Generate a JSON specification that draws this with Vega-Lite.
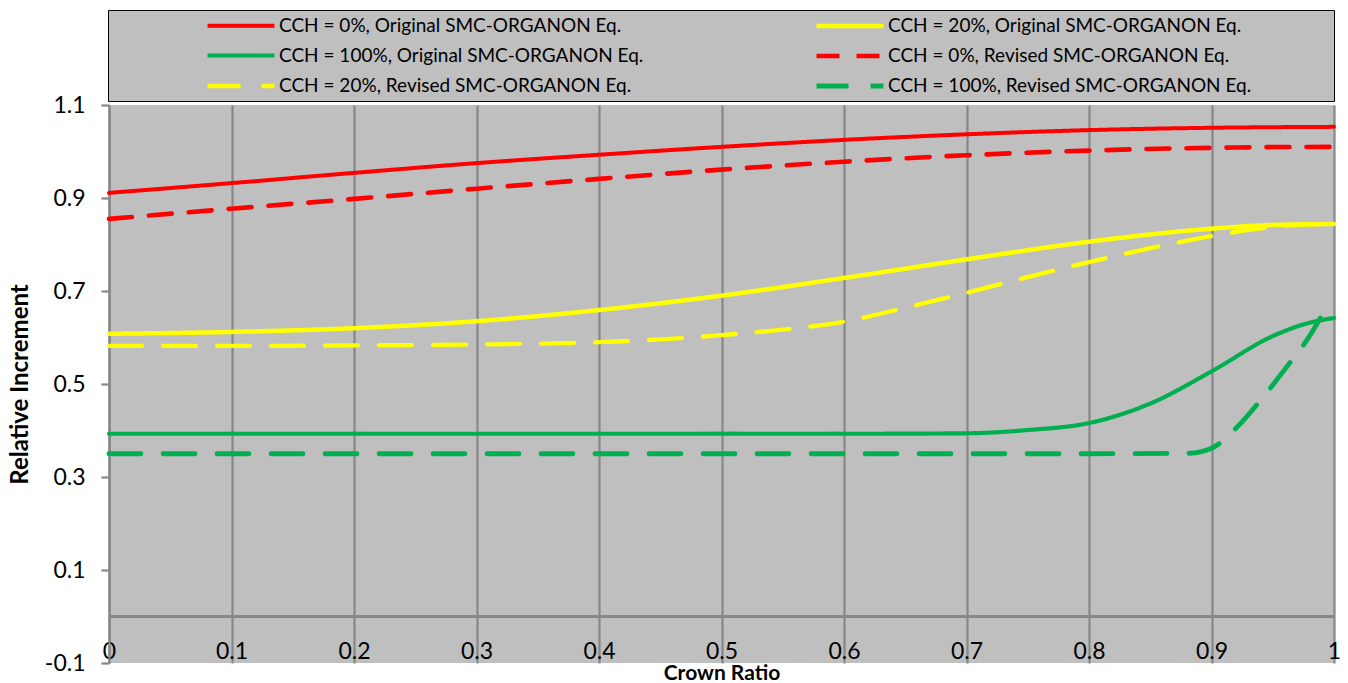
{
  "$schema": "https://vega.github.io/schema/vega-lite/v6.json",
  "width": 1225,
  "height": 558,
  "autosize": {"type": "none"},
  "padding": {"left": 109, "top": 105, "right": 14, "bottom": 20},
  "background": "white",
  "config": {
    "font": "Lato",
    "view": {"fill": "#bfbfbf", "stroke": null},
    "axis": {"gridColor": "#878787", "gridWidth": 2.2, "domainColor": "#878787", "domainWidth": 2.2, "tickColor": "#878787", "tickWidth": 2.2, "labelColor": "black", "titleColor": "black", "labelFont": "Lato", "titleFont": "Lato"}
  },
  "data": {
    "values": [
      {"series": "CCH = 0%, Original SMC-ORGANON Eq.", "x": 0.0, "y": 0.911},
      {"series": "CCH = 0%, Original SMC-ORGANON Eq.", "x": 0.1, "y": 0.932},
      {"series": "CCH = 0%, Original SMC-ORGANON Eq.", "x": 0.2, "y": 0.954},
      {"series": "CCH = 0%, Original SMC-ORGANON Eq.", "x": 0.3, "y": 0.975},
      {"series": "CCH = 0%, Original SMC-ORGANON Eq.", "x": 0.4, "y": 0.993},
      {"series": "CCH = 0%, Original SMC-ORGANON Eq.", "x": 0.5, "y": 1.010},
      {"series": "CCH = 0%, Original SMC-ORGANON Eq.", "x": 0.6, "y": 1.025},
      {"series": "CCH = 0%, Original SMC-ORGANON Eq.", "x": 0.7, "y": 1.037},
      {"series": "CCH = 0%, Original SMC-ORGANON Eq.", "x": 0.8, "y": 1.046},
      {"series": "CCH = 0%, Original SMC-ORGANON Eq.", "x": 0.9, "y": 1.051},
      {"series": "CCH = 0%, Original SMC-ORGANON Eq.", "x": 1.0, "y": 1.053},

      {"series": "CCH = 20%, Original SMC-ORGANON Eq.", "x": 0.0, "y": 0.608},
      {"series": "CCH = 20%, Original SMC-ORGANON Eq.", "x": 0.1, "y": 0.612},
      {"series": "CCH = 20%, Original SMC-ORGANON Eq.", "x": 0.2, "y": 0.620},
      {"series": "CCH = 20%, Original SMC-ORGANON Eq.", "x": 0.3, "y": 0.635},
      {"series": "CCH = 20%, Original SMC-ORGANON Eq.", "x": 0.4, "y": 0.659},
      {"series": "CCH = 20%, Original SMC-ORGANON Eq.", "x": 0.5, "y": 0.690},
      {"series": "CCH = 20%, Original SMC-ORGANON Eq.", "x": 0.6, "y": 0.728},
      {"series": "CCH = 20%, Original SMC-ORGANON Eq.", "x": 0.7, "y": 0.768},
      {"series": "CCH = 20%, Original SMC-ORGANON Eq.", "x": 0.8, "y": 0.806},
      {"series": "CCH = 20%, Original SMC-ORGANON Eq.", "x": 0.9, "y": 0.834},
      {"series": "CCH = 20%, Original SMC-ORGANON Eq.", "x": 0.95, "y": 0.842},
      {"series": "CCH = 20%, Original SMC-ORGANON Eq.", "x": 1.0, "y": 0.844},

      {"series": "CCH = 100%, Original SMC-ORGANON Eq.", "x": 0.0, "y": 0.393},
      {"series": "CCH = 100%, Original SMC-ORGANON Eq.", "x": 0.2, "y": 0.393},
      {"series": "CCH = 100%, Original SMC-ORGANON Eq.", "x": 0.4, "y": 0.393},
      {"series": "CCH = 100%, Original SMC-ORGANON Eq.", "x": 0.6, "y": 0.393},
      {"series": "CCH = 100%, Original SMC-ORGANON Eq.", "x": 0.7, "y": 0.394},
      {"series": "CCH = 100%, Original SMC-ORGANON Eq.", "x": 0.75, "y": 0.401},
      {"series": "CCH = 100%, Original SMC-ORGANON Eq.", "x": 0.8, "y": 0.416},
      {"series": "CCH = 100%, Original SMC-ORGANON Eq.", "x": 0.85, "y": 0.458},
      {"series": "CCH = 100%, Original SMC-ORGANON Eq.", "x": 0.9, "y": 0.527},
      {"series": "CCH = 100%, Original SMC-ORGANON Eq.", "x": 0.95, "y": 0.603},
      {"series": "CCH = 100%, Original SMC-ORGANON Eq.", "x": 0.975, "y": 0.628},
      {"series": "CCH = 100%, Original SMC-ORGANON Eq.", "x": 1.0, "y": 0.642},

      {"series": "CCH = 0%, Revised SMC-ORGANON Eq.", "x": 0.0, "y": 0.855},
      {"series": "CCH = 0%, Revised SMC-ORGANON Eq.", "x": 0.1, "y": 0.877},
      {"series": "CCH = 0%, Revised SMC-ORGANON Eq.", "x": 0.2, "y": 0.898},
      {"series": "CCH = 0%, Revised SMC-ORGANON Eq.", "x": 0.3, "y": 0.920},
      {"series": "CCH = 0%, Revised SMC-ORGANON Eq.", "x": 0.4, "y": 0.941},
      {"series": "CCH = 0%, Revised SMC-ORGANON Eq.", "x": 0.5, "y": 0.961},
      {"series": "CCH = 0%, Revised SMC-ORGANON Eq.", "x": 0.6, "y": 0.978},
      {"series": "CCH = 0%, Revised SMC-ORGANON Eq.", "x": 0.7, "y": 0.992},
      {"series": "CCH = 0%, Revised SMC-ORGANON Eq.", "x": 0.8, "y": 1.002},
      {"series": "CCH = 0%, Revised SMC-ORGANON Eq.", "x": 0.9, "y": 1.008},
      {"series": "CCH = 0%, Revised SMC-ORGANON Eq.", "x": 1.0, "y": 1.010},

      {"series": "CCH = 20%, Revised SMC-ORGANON Eq.", "x": 0.0, "y": 0.582},
      {"series": "CCH = 20%, Revised SMC-ORGANON Eq.", "x": 0.1, "y": 0.582},
      {"series": "CCH = 20%, Revised SMC-ORGANON Eq.", "x": 0.2, "y": 0.583},
      {"series": "CCH = 20%, Revised SMC-ORGANON Eq.", "x": 0.3, "y": 0.585},
      {"series": "CCH = 20%, Revised SMC-ORGANON Eq.", "x": 0.4, "y": 0.590},
      {"series": "CCH = 20%, Revised SMC-ORGANON Eq.", "x": 0.45, "y": 0.596},
      {"series": "CCH = 20%, Revised SMC-ORGANON Eq.", "x": 0.5, "y": 0.605},
      {"series": "CCH = 20%, Revised SMC-ORGANON Eq.", "x": 0.55, "y": 0.617},
      {"series": "CCH = 20%, Revised SMC-ORGANON Eq.", "x": 0.6, "y": 0.634},
      {"series": "CCH = 20%, Revised SMC-ORGANON Eq.", "x": 0.65, "y": 0.664},
      {"series": "CCH = 20%, Revised SMC-ORGANON Eq.", "x": 0.7, "y": 0.696},
      {"series": "CCH = 20%, Revised SMC-ORGANON Eq.", "x": 0.75, "y": 0.730},
      {"series": "CCH = 20%, Revised SMC-ORGANON Eq.", "x": 0.8, "y": 0.762},
      {"series": "CCH = 20%, Revised SMC-ORGANON Eq.", "x": 0.85, "y": 0.792},
      {"series": "CCH = 20%, Revised SMC-ORGANON Eq.", "x": 0.9, "y": 0.818},
      {"series": "CCH = 20%, Revised SMC-ORGANON Eq.", "x": 0.95, "y": 0.838},
      {"series": "CCH = 20%, Revised SMC-ORGANON Eq.", "x": 1.0, "y": 0.845},

      {"series": "CCH = 100%, Revised SMC-ORGANON Eq.", "x": 0.0, "y": 0.350},
      {"series": "CCH = 100%, Revised SMC-ORGANON Eq.", "x": 0.2, "y": 0.350},
      {"series": "CCH = 100%, Revised SMC-ORGANON Eq.", "x": 0.4, "y": 0.350},
      {"series": "CCH = 100%, Revised SMC-ORGANON Eq.", "x": 0.6, "y": 0.350},
      {"series": "CCH = 100%, Revised SMC-ORGANON Eq.", "x": 0.8, "y": 0.350},
      {"series": "CCH = 100%, Revised SMC-ORGANON Eq.", "x": 0.88, "y": 0.351},
      {"series": "CCH = 100%, Revised SMC-ORGANON Eq.", "x": 0.9, "y": 0.362},
      {"series": "CCH = 100%, Revised SMC-ORGANON Eq.", "x": 0.92, "y": 0.405},
      {"series": "CCH = 100%, Revised SMC-ORGANON Eq.", "x": 0.94, "y": 0.465},
      {"series": "CCH = 100%, Revised SMC-ORGANON Eq.", "x": 0.96, "y": 0.532},
      {"series": "CCH = 100%, Revised SMC-ORGANON Eq.", "x": 0.98, "y": 0.603},
      {"series": "CCH = 100%, Revised SMC-ORGANON Eq.", "x": 0.99, "y": 0.647}
    ]
  },
  "layer": [
    {
      "mark": {"type": "rule", "color": "#878787", "strokeWidth": 2.2},
      "encoding": {"y": {"datum": 0, "type": "quantitative"}}
    },
    {
      "mark": {"type": "line", "interpolate": "monotone", "strokeCap": "round"},
      "encoding": {
        "x": {
          "field": "x", "type": "quantitative",
          "scale": {"domain": [0, 1], "nice": false, "zero": false},
          "axis": {
            "values": [0, 0.1, 0.2, 0.3, 0.4, 0.5, 0.6, 0.7, 0.8, 0.9, 1],
            "format": "~g",
            "title": "Crown Ratio",
            "titleFontSize": 21, "titleFontWeight": "bold", "titlePadding": -1,
            "labelFontSize": 23, "labelFlush": false, "labelBaseline": "alphabetic",
            "ticks": false, "labelPadding": -5, "domain": false, "labelOverlap": false
          }
        },
        "y": {
          "field": "y", "type": "quantitative",
          "scale": {"domain": [-0.1, 1.1], "nice": false, "zero": false},
          "axis": {
            "values": [-0.1, 0.1, 0.3, 0.5, 0.7, 0.9, 1.1],
            "labelExpr": "datum.value < 0 ? '-' + format(-datum.value, '.1f') : format(datum.value, '.1f')",
            "title": "Relative Increment",
            "titleFontSize": 24, "titleFontWeight": "bold", "titlePadding": 12,
            "labelFontSize": 23, "tickSize": 8, "labelPadding": 16, "labelOverlap": false
          }
        },
        "color": {
          "field": "series", "type": "nominal",
          "scale": {
            "domain": ["CCH = 0%, Original SMC-ORGANON Eq.", "CCH = 100%, Original SMC-ORGANON Eq.", "CCH = 20%, Revised SMC-ORGANON Eq.", "CCH = 20%, Original SMC-ORGANON Eq.", "CCH = 0%, Revised SMC-ORGANON Eq.", "CCH = 100%, Revised SMC-ORGANON Eq."],
            "range": ["#ff0000", "#00b050", "#ffff00", "#ffff00", "#ff0000", "#00b050"]
          },
          "legend": {
            "title": null, "orient": "none", "legendX": -1, "legendY": -95,
            "columns": 2, "columnPadding": -3, "rowPadding": 9, "padding": 5,
            "symbolType": "M-4,0H4", "symbolSize": 280, "symbolOffset": 117, "labelOffset": 27,
            "labelFontSize": 19, "labelFont": "Lato", "labelLimit": 0,
            "labelExpr": "datum.label + '\u00a0\u00a0\u00a0\u00a0\u00a0\u00a0\u00a0\u00a0\u00a0\u00a0\u00a0\u00a0\u00a0\u00a0\u00a0\u00a0\u200b'",
            "fillColor": "#bfbfbf", "strokeColor": "black"
          }
        },
        "strokeDash": {
          "field": "series", "type": "nominal",
          "scale": {
            "domain": ["CCH = 0%, Original SMC-ORGANON Eq.", "CCH = 100%, Original SMC-ORGANON Eq.", "CCH = 20%, Revised SMC-ORGANON Eq.", "CCH = 20%, Original SMC-ORGANON Eq.", "CCH = 0%, Revised SMC-ORGANON Eq.", "CCH = 100%, Revised SMC-ORGANON Eq."],
            "range": [[1, 0], [1, 0], [33, 21], [1, 0], [23, 17], [32, 22]]
          }
        },
        "strokeWidth": {
          "field": "series", "type": "nominal",
          "scale": {
            "domain": ["CCH = 0%, Original SMC-ORGANON Eq.", "CCH = 100%, Original SMC-ORGANON Eq.", "CCH = 20%, Revised SMC-ORGANON Eq.", "CCH = 20%, Original SMC-ORGANON Eq.", "CCH = 0%, Revised SMC-ORGANON Eq.", "CCH = 100%, Revised SMC-ORGANON Eq."],
            "range": [4, 4.8, 4.4, 4.4, 4, 4.8]
          }
        }
      }
    }
  ]
}
